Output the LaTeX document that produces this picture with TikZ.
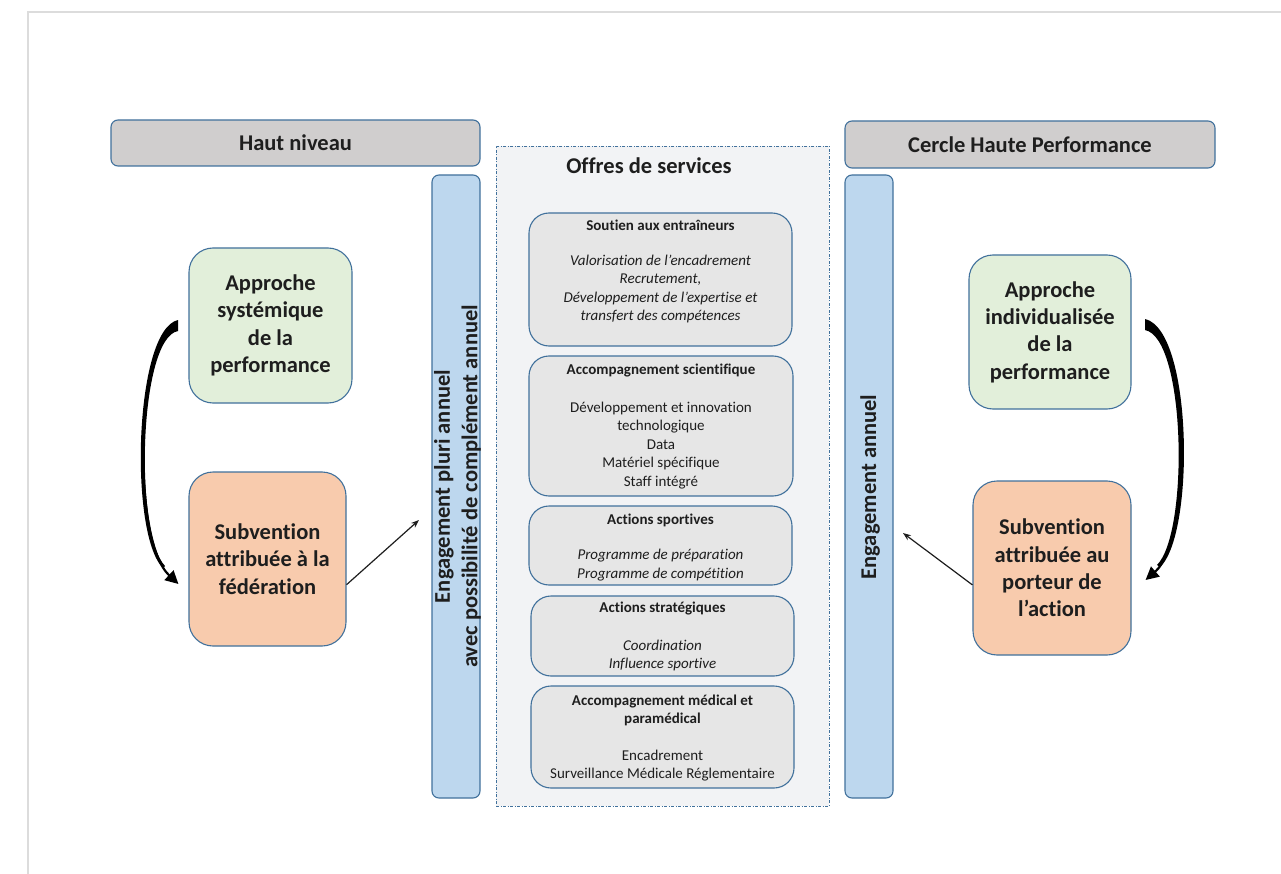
\documentclass[tikz,border=0pt]{standalone}
\usepackage{fontspec}
\setmainfont[Ligatures={TeX,NoCommon}]{Carlito}
\usetikzlibrary{arrows.meta}
\definecolor{bord}{HTML}{41719C}
\definecolor{hdr}{HTML}{D0CECE}
\definecolor{barblue}{HTML}{BDD7EE}
\definecolor{subgray}{HTML}{E6E6E6}
\definecolor{offresfill}{HTML}{F2F3F5}
\definecolor{greenf}{HTML}{E2EFDA}
\definecolor{orangef}{HTML}{F8CBAD}
\definecolor{txt}{HTML}{1E1E1E}
\definecolor{frame}{HTML}{DCDCDC}
\tikzset{
  base/.style={draw=bord, line width=1.1pt, text=txt, inner sep=0pt},
  header/.style={base, fill=hdr, rounded corners=7pt, font=\fontsize{22.5}{26}\selectfont\bfseries},
  bar/.style={base, fill=barblue, rounded corners=7pt},
  bartext/.style={text=txt, inner sep=0pt, align=center, font=\fontsize{22.5}{27.5}\selectfont\bfseries},
  bigbox/.style={base, rounded corners=24pt, align=center, font=\fontsize{22.5}{27.3}\selectfont\bfseries},
  subbox/.style={base, fill=subgray, rounded corners=20pt},
  subtitle/.style={text=txt, inner sep=0pt, align=center, font=\fontsize{15}{18}\selectfont\bfseries},
  subbody/.style={text=txt, inner sep=0pt, align=center, font=\fontsize{15}{18.5}\selectfont},
  subital/.style={subbody, font=\fontsize{15}{18.5}\selectfont\itshape},
  offresbox/.style={draw=bord, line width=0.8pt, fill=offresfill, dash pattern=on 3pt off 1.5pt on 1pt off 1.5pt},
  curvearrow/.style={line width=2.2pt, -{Triangle[length=13pt,width=13pt]}, black},
  taper/.style={fill=black},
  thinarrow/.style={line width=1.2pt, -{Stealth[length=8pt,width=6pt]}, txt}
}
\begin{document}
\begin{tikzpicture}[x=1pt,y=-1pt]
\useasboundingbox (0,0) rectangle (1281,874);
\fill[white] (0,0) rectangle (1281,874);
\draw[frame, line width=2pt] (28,874) -- (28,12) -- (1281,12);

% headers
\node[header, minimum width=369pt, minimum height=46pt] (haut) at (295.5,143) {Haut niveau};
\node[header, minimum width=370pt, minimum height=47pt] (cercle) at (1030,144.5) {Cercle Haute Performance};

% bars
\node[bar, minimum width=48pt, minimum height=623pt] (barL) at (456,486.5) {};
\node[bar, minimum width=48pt, minimum height=623pt] (barR) at (869,486.5) {};
\node[bartext, rotate=90] (barLt) at (457.5,486.5) {Engagement pluri annuel\\avec possibilité de complément annuel};
\node[bartext, rotate=90] (barRt) at (870,487) {Engagement annuel};

% offres
\node[offresbox, minimum width=333pt, minimum height=660pt] (offres) at (662.5,476) {};
\node[text=txt, inner sep=0pt, font=\fontsize{22.5}{26}\selectfont\bfseries] (offrest) at (649,166) {Offres de services};

% sub boxes
\node[subbox, minimum width=263pt, minimum height=133pt] (s1) at (660.5,279.5) {};
\node[subtitle] (s1t) at (660.5,225) {Soutien aux entraîneurs};
\node[subital] (s1b) at (660.5,289) {Valorisation de l’encadrement\\Recrutement,\\Développement de l’expertise et\\transfert des compétences};

\node[subbox, minimum width=264pt, minimum height=140pt] (s2) at (661,426) {};
\node[subtitle] (s2t) at (661,371) {Accompagnement scientifique};
\node[subbody] (s2b) at (661,445.5) {Développement et innovation\\technologique\\Data\\Matériel spécifique\\Staff intégré};

\node[subbox, minimum width=263pt, minimum height=79pt] (s3) at (660.5,545.5) {};
\node[subtitle] (s3t) at (660.5,520) {Actions sportives};
\node[subital] (s3b) at (660.5,565) {Programme de préparation\\Programme de compétition};

\node[subbox, minimum width=263pt, minimum height=80pt] (s4) at (662.5,636) {};
\node[subtitle] (s4t) at (662.5,609) {Actions stratégiques};
\node[subital] (s4b) at (662.5,655.5) {Coordination\\Influence sportive};

\node[subbox, minimum width=263pt, minimum height=102pt] (s5) at (662.5,737) {};
\node[subtitle] (s5t) at (662.5,710) {Accompagnement médical et\\paramédical};
\node[subbody] (s5b) at (662.5,765.5) {Encadrement\\Surveillance Médicale Réglementaire};

% big boxes
\node[bigbox, fill=greenf, minimum width=163pt, minimum height=155pt] (greenL) at (270.5,325.5) {Approche\\systémique\\de la\\performance};
\node[bigbox, fill=orangef, minimum width=157pt, minimum height=174pt] (orangeL) at (267.5,559) {Subvention\\attribuée à la\\fédération};
\node[bigbox, fill=greenf, minimum width=162pt, minimum height=154pt] (greenR) at (1050,332) {Approche\\individualisée\\de la\\performance};
\node[bigbox, fill=orangef, minimum width=158pt, minimum height=174pt] (orangeR) at (1052,568) {Subvention\\attribuée au\\porteur de\\l’action};

% straight arrows
\coordinate (tipL) at (419,520);
\coordinate (tipR) at (903,533);
\draw[thinarrow] (orangeL.-18) -- (tipL);
\draw[thinarrow] (orangeR.192) -- (tipR);

% curved tapered arrows
\fill[taper] (178,320) .. controls (134,330) and (129,535) .. (163,568)
  -- (165,566) .. controls (134,533) and (139,338) .. (178,331) -- cycle;
\coordinate (cLs) at ([xshift=-11pt]greenL.west);
\coordinate (cLe) at ([xshift=-10pt,yshift=-25pt]orangeL.west);
\draw[curvearrow] (cLs) .. controls (136,335) and (131,540) .. (cLe);

\fill[taper] (1145,319) .. controls (1193,330) and (1195,535) .. (1160,567)
  -- (1157,565) .. controls (1189,533) and (1186,338) .. (1145,330) -- cycle;
\coordinate (cRs) at ([xshift=14pt,yshift=7pt]greenR.east);
\coordinate (cRe) at ([xshift=14pt,yshift=-12pt]orangeR.east);
\draw[curvearrow] (cRs) .. controls (1190,335) and (1192,540) .. (cRe);
\end{tikzpicture}
\end{document}
